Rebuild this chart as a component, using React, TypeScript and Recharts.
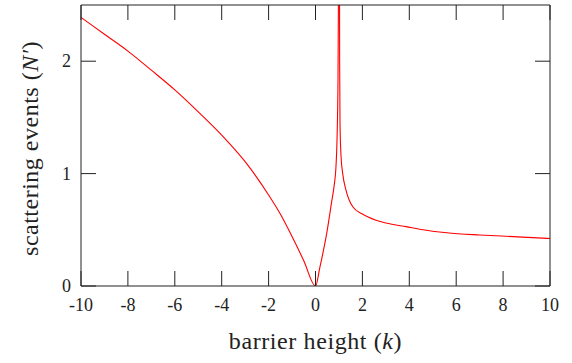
import { LineChart, Line, XAxis, YAxis } from "recharts";

// barrier height k (x) and scattering events N' (y)
const K_VALUES = [
  -10, -9, -8, -7, -6, -5, -4, -3, -2, -1.5, -1, -0.5, 0,
  0.19, 0.48, 0.69, 0.8, 0.87, 0.92, 0.96, 0.99, 1.01, 1.03, 1.045, 1.09, 1.16, 1.3, 1.59,
  2.0, 2.58, 3.2, 3.86, 4.5, 5.6, 7.0, 8.43, 10,
];
const N_VALUES = [
  2.39, 2.24, 2.09, 1.92, 1.745, 1.55, 1.343, 1.106, 0.81, 0.64, 0.44, 0.225, 0,
  0.17, 0.47, 0.75, 0.9, 1.05, 1.32, 1.85, 3.0, 4.0, 2.0, 1.45, 1.15, 1.0, 0.854, 0.705,
  0.64, 0.585, 0.552, 0.528, 0.503, 0.474, 0.454, 0.439, 0.422,
];
const X_TICKS = [-10, -8, -6, -4, -2, 0, 2, 4, 6, 8, 10];
const Y_TICKS = [0, 1, 2];

const data = K_VALUES.map((k, i) => ({ k, n: N_VALUES[i] }));

const FONT = "'Liberation Serif', 'DejaVu Serif', serif";
const INK = "#222";
const TICK_LEN = 15;

function BottomTick({ x, y, payload }: any) {
  return (
    <g>
      <line x1={x} y1={y} x2={x} y2={y - TICK_LEN} stroke={INK} strokeWidth={1} />
      <text x={x} y={y + 25} textAnchor="middle" fontFamily={FONT} fontSize={18} fill={INK}>
        {String(payload.value)}
      </text>
    </g>
  );
}

function TopTick({ x, y }: any) {
  return <line x1={x} y1={y} x2={x} y2={y + TICK_LEN} stroke={INK} strokeWidth={1} />;
}

function LeftTick({ x, y, payload }: any) {
  return (
    <g>
      <line x1={x} y1={y} x2={x + TICK_LEN} y2={y} stroke={INK} strokeWidth={1} />
      <text x={x - 10} y={y + 6} textAnchor="end" fontFamily={FONT} fontSize={18} fill={INK}>
        {String(payload.value)}
      </text>
    </g>
  );
}

function RightTick({ x, y }: any) {
  return <line x1={x} y1={y} x2={x - TICK_LEN} y2={y} stroke={INK} strokeWidth={1} />;
}

export default function App() {
  return (
    <div style={{ position: "absolute", left: 0, top: 0, background: "white" }}>
      <LineChart width={572} height={363} data={data} margin={{ top: 4, right: 21, left: 0, bottom: 0 }}>
        <XAxis
          xAxisId="bottom"
          dataKey="k"
          type="number"
          domain={[-10, 10]}
          ticks={X_TICKS}
          height={77}
          tickSize={0}
          tickMargin={0}
          tickLine={false}
          axisLine={{ stroke: INK }}
          tick={<BottomTick />}
          interval={0}
          label={{
            content: ({ viewBox }: any) => (
              <text
                x={viewBox.x + viewBox.width / 2}
                y={viewBox.y + 63}
                textAnchor="middle"
                fontFamily={FONT}
                fontSize={24}
                letterSpacing={0.6}
                fill={INK}
              >
                barrier height (<tspan fontStyle="italic">k</tspan>)
              </text>
            ),
          }}
        />
        <XAxis
          xAxisId="top"
          orientation="top"
          dataKey="k"
          type="number"
          domain={[-10, 10]}
          ticks={X_TICKS}
          height={1}
          tickSize={0}
          tickMargin={0}
          tickLine={false}
          axisLine={{ stroke: INK }}
          tick={<TopTick />}
          interval={0}
        />
        <YAxis
          yAxisId="left"
          type="number"
          domain={[0, 2.5]}
          allowDataOverflow
          ticks={Y_TICKS}
          width={81}
          tickSize={0}
          tickMargin={0}
          tickLine={false}
          axisLine={{ stroke: INK }}
          tick={<LeftTick />}
          interval={0}
          label={{
            content: ({ viewBox }: any) => {
              const cx = 30;
              const cy = viewBox.y + viewBox.height / 2 + 3;
              return (
                <text
                  x={cx}
                  y={cy}
                  transform={`rotate(-90 ${cx} ${cy})`}
                  textAnchor="middle"
                  dominantBaseline="central"
                  fontFamily={FONT}
                  fontSize={24}
                  letterSpacing={0.5}
                  fill={INK}
                >
                  scattering events (<tspan fontStyle="italic">N′</tspan>)
                </text>
              );
            },
          }}
        />
        <YAxis
          yAxisId="right"
          orientation="right"
          type="number"
          domain={[0, 2.5]}
          allowDataOverflow
          ticks={Y_TICKS}
          width={1}
          tickSize={0}
          tickMargin={0}
          tickLine={false}
          axisLine={{ stroke: INK }}
          tick={<RightTick />}
          interval={0}
        />
        <Line
          xAxisId="bottom"
          yAxisId="left"
          dataKey="n"
          type="monotone"
          stroke="#ff0000"
          strokeWidth={1.1}
          dot={false}
          activeDot={false}
          isAnimationActive={false}
        />
      </LineChart>
    </div>
  );
}
